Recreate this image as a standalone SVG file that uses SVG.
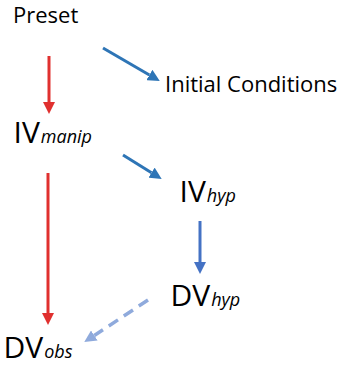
<svg xmlns="http://www.w3.org/2000/svg" width="344" height="366" viewBox="0 0 344 366">
<style>
text{font-family:"Open Sans","Liberation Sans",sans-serif;fill:#000}
.s{font-size:22px}
.b{font-size:30px}
.i{font-size:18px;font-style:italic}
.red{stroke:#E0302F;stroke-width:3;fill:none}
.blue{stroke:#2E75B6;stroke-width:3;fill:none}
.blue2{stroke:#4472C4;stroke-width:3;fill:none}
.lb{stroke:#8FAADC;stroke-width:3.5;fill:none;stroke-dasharray:11 7}
</style>
<defs>
<marker id="hr" markerUnits="userSpaceOnUse" markerWidth="12" markerHeight="12" refX="0" refY="5.5" orient="auto" viewBox="0 0 11 11"><path d="M0,0 L11,5.5 L0,11 Z" fill="#E0302F"/></marker>
<marker id="hb" markerUnits="userSpaceOnUse" markerWidth="12" markerHeight="12" refX="0" refY="5.5" orient="auto" viewBox="0 0 11 11"><path d="M0,0 L11,5.5 L0,11 Z" fill="#2E75B6"/></marker>
<marker id="hb2" markerUnits="userSpaceOnUse" markerWidth="12" markerHeight="12" refX="0" refY="5.5" orient="auto" viewBox="0 0 11 11"><path d="M0,0 L11,5.5 L0,11 Z" fill="#4472C4"/></marker>
<marker id="hl" markerUnits="userSpaceOnUse" markerWidth="12" markerHeight="12" refX="0" refY="5.5" orient="auto" viewBox="0 0 11 11"><path d="M0,0 L11,5.5 L0,11 Z" fill="#8FAADC"/></marker>
</defs>
<g id="connectors">
<line class="red" x1="49" y1="56" x2="49" y2="102" marker-end="url(#hr)"/>
<line class="red" x1="48" y1="173" x2="48" y2="313" marker-end="url(#hr)"/>
<line class="blue" x1="103" y1="48" x2="149.4" y2="75" marker-end="url(#hb)"/>
<line class="blue" x1="123" y1="155" x2="151.5" y2="172.7" marker-end="url(#hb)"/>
<line class="blue2" x1="200" y1="221" x2="200" y2="262" marker-end="url(#hb2)"/>
<line class="lb" x1="148" y1="300" x2="94.3" y2="335.5" marker-end="url(#hl)"/>
</g>
<g id="preset"><text class="s" x="13" y="23">Preset</text></g>
<g id="initial-conditions"><text class="s" x="165" y="92">Initial Conditions</text></g>
<g id="iv-manip"><text class="b" x="13.5" y="143">IV<tspan class="i" dx="1">manip</tspan></text></g>
<g id="iv-hyp"><text class="b" x="179.5" y="202">IV<tspan class="i" dx="1">hyp</tspan></text></g>
<g id="dv-hyp"><text class="b" x="170.5" y="306">DV<tspan class="i" dx="1">hyp</tspan></text></g>
<g id="dv-obs"><text class="b" x="3.5" y="358">DV<tspan class="i" dx="1">obs</tspan></text></g>
</svg>
